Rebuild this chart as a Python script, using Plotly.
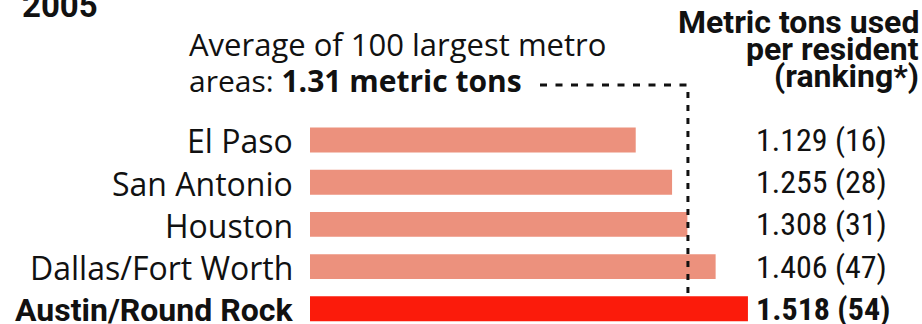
import plotly.graph_objects as go

# Per-resident usage, 2005 (metric tons) and national ranking
cities = ["El Paso", "San Antonio", "Houston", "Dallas/Fort Worth", "Austin/Round Rock"]
tons = [1.129, 1.255, 1.308, 1.406, 1.518]
ranks = [16, 28, 31, 47, 54]
average_100 = 1.31
year_label = "2005"
highlight = "Austin/Round Rock"

# Page geometry
W, H = 922, 324
LEFT = 310                      # pixel column where the value axis starts
PX_PER_UNIT = 288.5             # horizontal scale
ROW = 42.2                      # vertical spacing between bars
FIRST_ROW_PX = 140              # centre of the first bar
BAR_W = 0.59

x_max = (W - LEFT) / PX_PER_UNIT
y_top = -FIRST_ROW_PX / ROW
y_bottom = (H - FIRST_ROW_PX) / ROW


def px_to_y(py):
    """Pixel row -> data y (reversed category axis)."""
    return (py - FIRST_ROW_PX) / ROW


def px_to_x(px):
    return (px - LEFT) / PX_PER_UNIT


def paper_x(px):
    return (px - LEFT) / (W - LEFT)


def paper_y(py):
    return 1 - py / H


SALMON = "#EC917D"
RED = "#FB1B0B"
colors = [RED if c == highlight else SALMON for c in cities]
rows = list(range(len(cities)))

fig = go.Figure()
fig.add_trace(go.Bar(
    x=tons, y=rows, orientation="h", width=BAR_W,
    marker=dict(color=colors, line=dict(width=0)),
    hoverinfo="skip",
))

LABEL_FONT = "Open Sans, Noto Sans, sans-serif"
NUM_FONT = "Liberation Sans Narrow, Roboto Condensed, Liberation Sans, sans-serif"
BOLD_FONT = "Liberation Sans Narrow, Roboto, Liberation Sans, sans-serif"

annotations = []
for i, (c, v, r) in enumerate(zip(cities, tons, ranks)):
    bold = c == highlight
    centre_px = FIRST_ROW_PX + i * ROW
    annotations.append(dict(
        x=paper_x(295), y=paper_y(centre_px), xref="paper", yref="paper",
        text=f"<b>{c}</b>" if bold else c,
        xanchor="right", yanchor="middle", showarrow=False, yshift=-1,
        font=dict(family=BOLD_FONT if bold else LABEL_FONT,
                  size=32, color="#111"),
    ))
    annotations.append(dict(
        x=px_to_x(754), y=i, xref="x", yref="y",
        text=f"<b>{v:.3f} ({r})</b>" if bold else f"{v:.3f} ({r})",
        xanchor="left", yanchor="middle", showarrow=False,
        font=dict(family=NUM_FONT, size=32, color="#111"),
    ))

# Column header, right aligned
for line, base in [("Metric tons used", 36), ("per resident", 63), ("(ranking*)", 90)]:
    annotations.append(dict(
        x=px_to_x(921), y=px_to_y(base), xref="x", yref="y",
        text=f"<b>{line}</b>", xanchor="right", yanchor="bottom",
        showarrow=False, yshift=-7,
        font=dict(family=BOLD_FONT, size=32, color="#111"),
    ))

# Average note
annotations.append(dict(
    x=paper_x(187), y=paper_y(58), xref="paper", yref="paper",
    text="Average of 100 largest metro", xanchor="left", yanchor="bottom",
    showarrow=False, yshift=-9,
    font=dict(family=LABEL_FONT, size=31, color="#111"),
))
annotations.append(dict(
    x=paper_x(187), y=paper_y(94), xref="paper", yref="paper",
    text=f"areas: <b>{average_100:.2f} metric tons</b>", xanchor="left",
    yanchor="bottom", showarrow=False, yshift=-9,
    font=dict(family=LABEL_FONT, size=30, color="#111"),
))

# Year heading, partly above the page edge
annotations.append(dict(
    x=paper_x(20), y=paper_y(20), xref="paper", yref="paper",
    text=f"<b>{year_label}</b>", xanchor="left", yanchor="bottom",
    showarrow=False, yshift=-7,
    font=dict(family=BOLD_FONT, size=33, color="#111"),
))

# Leader line from the note to the average marker
leader_y = px_to_y(85)
austin_top = cities.index(highlight) - BAR_W / 2
shapes = [
    dict(type="line", xref="x", yref="y", x0=px_to_x(540), x1=average_100,
         y0=leader_y, y1=leader_y,
         line=dict(color="#111", width=3, dash="7px,8.5px")),
    dict(type="line", xref="x", yref="y", x0=average_100, x1=average_100,
         y0=px_to_y(92), y1=austin_top,
         line=dict(color="#111", width=3, dash="6px,7px")),
]

fig.update_layout(
    width=W, height=H,
    margin=dict(l=LEFT, r=0, t=0, b=0),
    paper_bgcolor="white", plot_bgcolor="white",
    showlegend=False,
    xaxis=dict(range=[0, x_max], visible=False, fixedrange=True),
    yaxis=dict(range=[y_bottom, y_top], visible=False, fixedrange=True),
    annotations=annotations,
    shapes=shapes,
)

fig.write_html("out.html", config={"displayModeBar": False})
